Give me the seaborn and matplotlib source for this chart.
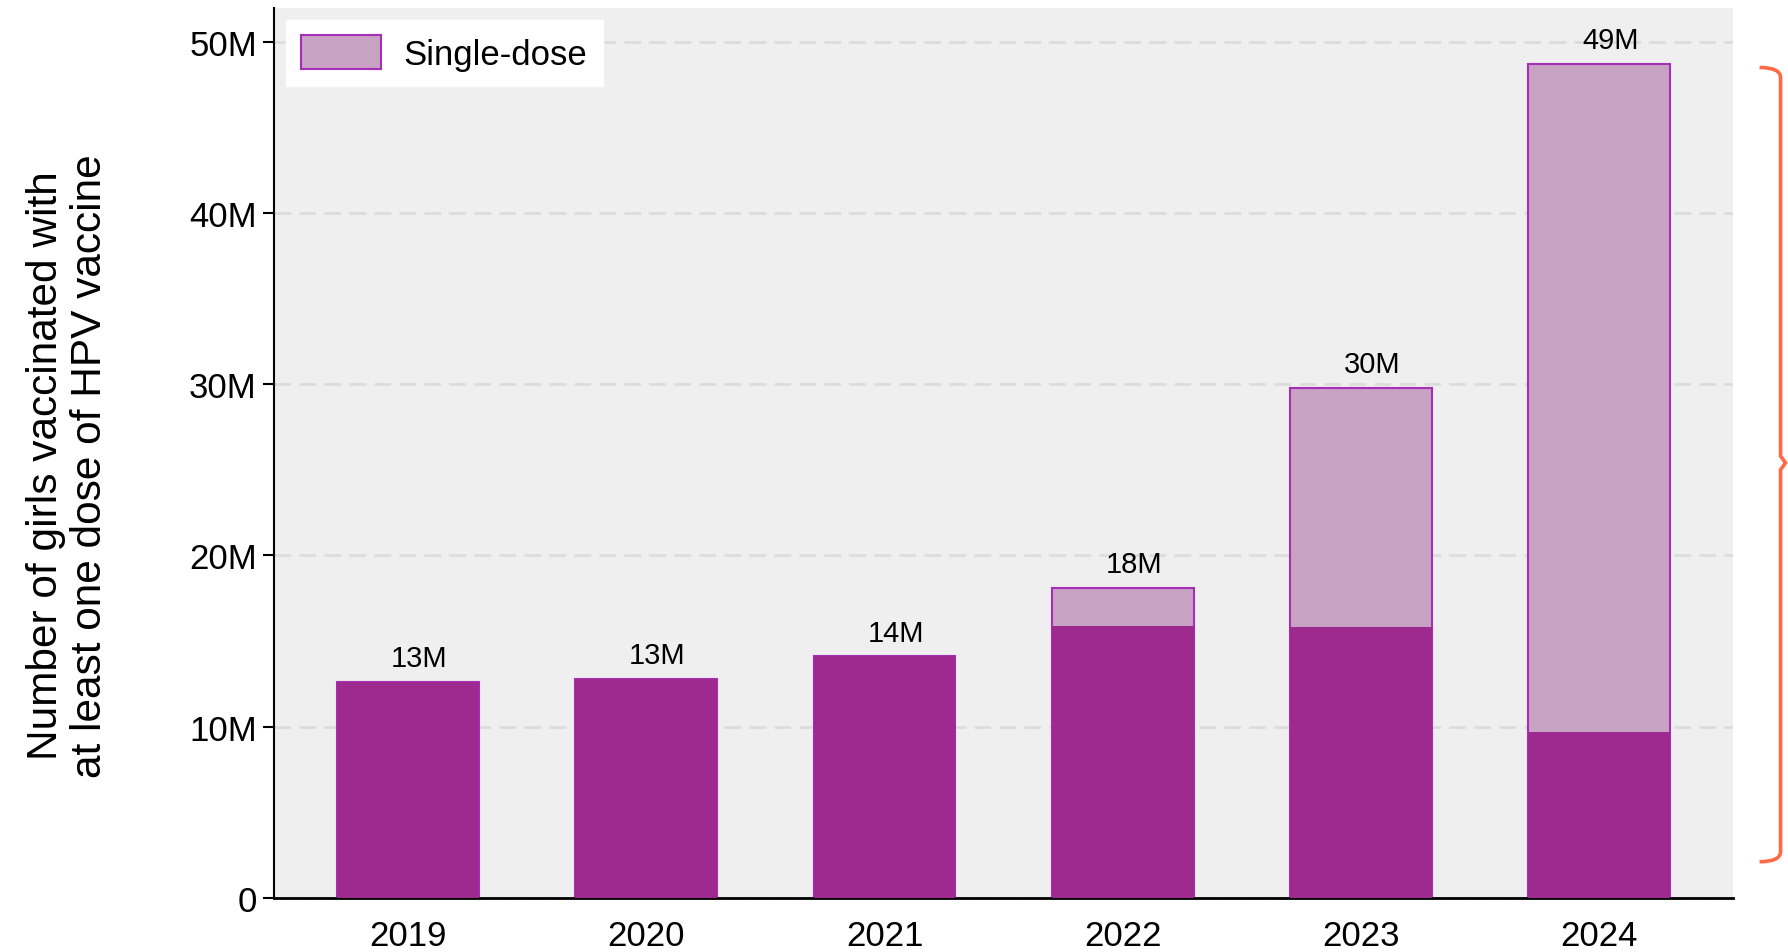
import numpy as np
import pandas as pd
import matplotlib
matplotlib.use("Agg")
import matplotlib.pyplot as plt
from matplotlib.path import Path
from matplotlib.patches import Patch, PathPatch
import matplotlib.transforms as mtransforms
import seaborn as sns

# Data (millions of girls vaccinated with at least one HPV dose)
years = ["2019", "2020", "2021", "2022", "2023", "2024"]
multi_dose = [12.6, 12.8, 14.1, 15.9, 15.8, 9.7]
single_dose = [0.0, 0.0, 0.0, 2.2, 14.0, 39.0]
total_labels = ["13M", "13M", "14M", "18M", "30M", "49M"]
y_ticks = [0, 10, 20, 30, 40, 50]
y_tick_labels = ["0", "10M", "20M", "30M", "40M", "50M"]

PRIMARY = "#9e2a8f"
SINGLE = "#c8a2c2"
SINGLE_EDGE = "#a52fb8"
BRACE = "#ff6a45"

sns.set_theme(style="white")
plt.rcParams["font.family"] = ["Liberation Sans", "DejaVu Sans"]
plt.rcParams["text.color"] = "black"
plt.rcParams["axes.labelcolor"] = "black"
plt.rcParams["xtick.color"] = "black"
plt.rcParams["ytick.color"] = "black"

df = pd.DataFrame({"year": years, "multi": multi_dose, "single": single_dose})
df["total"] = df["multi"] + df["single"]

fig = plt.figure(figsize=(17.88, 9.53), dpi=100)
ax = fig.add_axes([0.153, 0.057, 0.816, 0.934])
ax.set_facecolor("#efefef")

# total bar (single-dose shown on top), then the rest drawn over it
sns.barplot(data=df, x="year", y="total", color=SINGLE, saturation=1,
            edgecolor=SINGLE_EDGE, linewidth=1.5, width=0.595, ax=ax, zorder=2)
sns.barplot(data=df, x="year", y="multi", color=PRIMARY, saturation=1,
            linewidth=0, width=0.595, ax=ax, zorder=3)

for i, (tot, lab) in enumerate(zip(df["total"], total_labels)):
    ax.annotate(lab, (i, tot), xytext=(8, 7), textcoords="offset points",
                ha="center", va="bottom", fontsize=21, color="black")

ax.set_xlim(-0.565, 5.56)
ax.set_ylim(0, 52)
ax.set_yticks(y_ticks)
ax.set_yticklabels(y_tick_labels)
ax.yaxis.grid(True, linestyle=(0, (6, 3)), color="#dcdcdc", linewidth=2)
ax.set_axisbelow(True)
ax.tick_params(axis="y", labelsize=25, left=True, length=8, width=1.5,
               color="black", pad=4)
ax.tick_params(axis="x", labelsize=25, bottom=False, pad=9)
ax.set_xlabel("")
ax.set_ylabel("Number of girls vaccinated with\nat least one dose of HPV vaccine",
              fontsize=30.5, linespacing=1.12)
ax.yaxis.set_label_coords(-0.112, 0.486)

for side in ["top", "right"]:
    ax.spines[side].set_visible(False)
ax.spines["left"].set_color("black")
ax.spines["left"].set_linewidth(1.5)
ax.spines["bottom"].set_color("black")
ax.spines["bottom"].set_linewidth(2)

leg = ax.legend(handles=[Patch(facecolor=SINGLE, edgecolor=SINGLE_EDGE,
                               linewidth=1.5, label="Single-dose")],
                loc="upper left", fontsize=25, frameon=True, fancybox=False,
                framealpha=1, edgecolor="white", handlelength=2.3,
                handleheight=1.1, borderpad=0.45, handletextpad=0.65,
                borderaxespad=0.35)
leg.get_frame().set_facecolor("white")

# curly brace to the right of the 2024 bar
trans = mtransforms.blended_transform_factory(ax.transAxes, ax.transData)
x0, x1, x2 = 1.0185, 1.0329, 1.0363
top, bot, mid = 48.5, 2.1, 25.4
r = 0.6
verts = [(x0, top), (x1, top), (x1, top - r), (x1, mid + 0.4), (x2, mid),
         (x1, mid - 0.4), (x1, bot + r), (x1, bot), (x0, bot)]
codes = [Path.MOVETO, Path.CURVE3, Path.CURVE3, Path.LINETO, Path.LINETO,
         Path.LINETO, Path.LINETO, Path.CURVE3, Path.CURVE3]
brace = PathPatch(Path(verts, codes), transform=trans, fill=False,
                  edgecolor=BRACE, linewidth=2.6, clip_on=False)
ax.add_patch(brace)

fig.savefig("out.png", dpi=100)
